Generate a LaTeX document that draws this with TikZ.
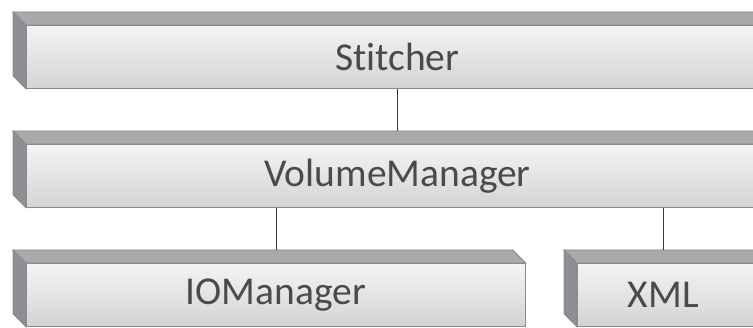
\documentclass[tikz,border=0pt]{standalone}
\usepackage{fontspec}
\setmainfont{Carlito}[Ligatures={NoCommon,NoRare}]
\definecolor{frontTop}{HTML}{F3F4F4}
\definecolor{frontBot}{HTML}{D2D3D4}
\definecolor{topFace}{HTML}{A8A9AB}
\definecolor{sideFace}{HTML}{8E8F92}
\definecolor{edgeCol}{HTML}{8A8B8D}
\definecolor{txtCol}{HTML}{4A4A4A}
\definecolor{lineCol}{HTML}{3A3A3A}
\tikzset{
  front/.style={rectangle, anchor=north west, minimum height=63pt, inner sep=0pt,
    top color=frontTop, bottom color=frontBot, draw=edgeCol, line width=0.8pt,
    text=txtCol, font=\fontsize{39.5}{41}\selectfont},
  topface/.style={fill=topFace, draw=edgeCol, line width=0.8pt},
  sideface/.style={fill=sideFace, draw=edgeCol, line width=0.8pt},
  link/.style={draw=lineCol, line width=0.9pt}
}
\newcommand{\boxfaces}[1]{%
  \path[topface] ([shift={(-13,-13)}]#1.north west) -- ([shift={(-13,-13)}]#1.north east) -- (#1.north east) -- (#1.north west) -- cycle;
  \path[sideface] ([shift={(-13,-13)}]#1.north west) -- (#1.north west) -- (#1.south west) -- ([shift={(-13,-13)}]#1.south west) -- cycle;
}
\begin{document}
\begin{tikzpicture}[x=1pt,y=-1pt]
\useasboundingbox (0,0) rectangle (753,328);
\clip (0,0) rectangle (753,328);
\fill[white] (0,0) rectangle (753,328);
% front faces
\node[front, minimum width=742pt] (stitcher) at (26,25) {Stitcher};
\node[front, minimum width=742pt] (vm) at (26,144) {VolumeManager};
\node[front, minimum width=499pt] (io) at (26,263) {IOManager};
\node[front, minimum width=203pt] (xml) at (577,263) {\kern-31pt XML};
\boxfaces{stitcher}
\boxfaces{vm}
\boxfaces{io}
\boxfaces{xml}
% back-edge coordinates
\coordinate (vmback) at (397,131);
\coordinate (ioback) at (276,250);
\coordinate (xmlback) at (663,250);
% connectors
\draw[link] (stitcher.south -| vmback) -- (vmback);
\draw[link] (vm.south -| ioback) -- (ioback);
\draw[link] (vm.south -| xmlback) -- (xmlback);
\end{tikzpicture}
\end{document}
